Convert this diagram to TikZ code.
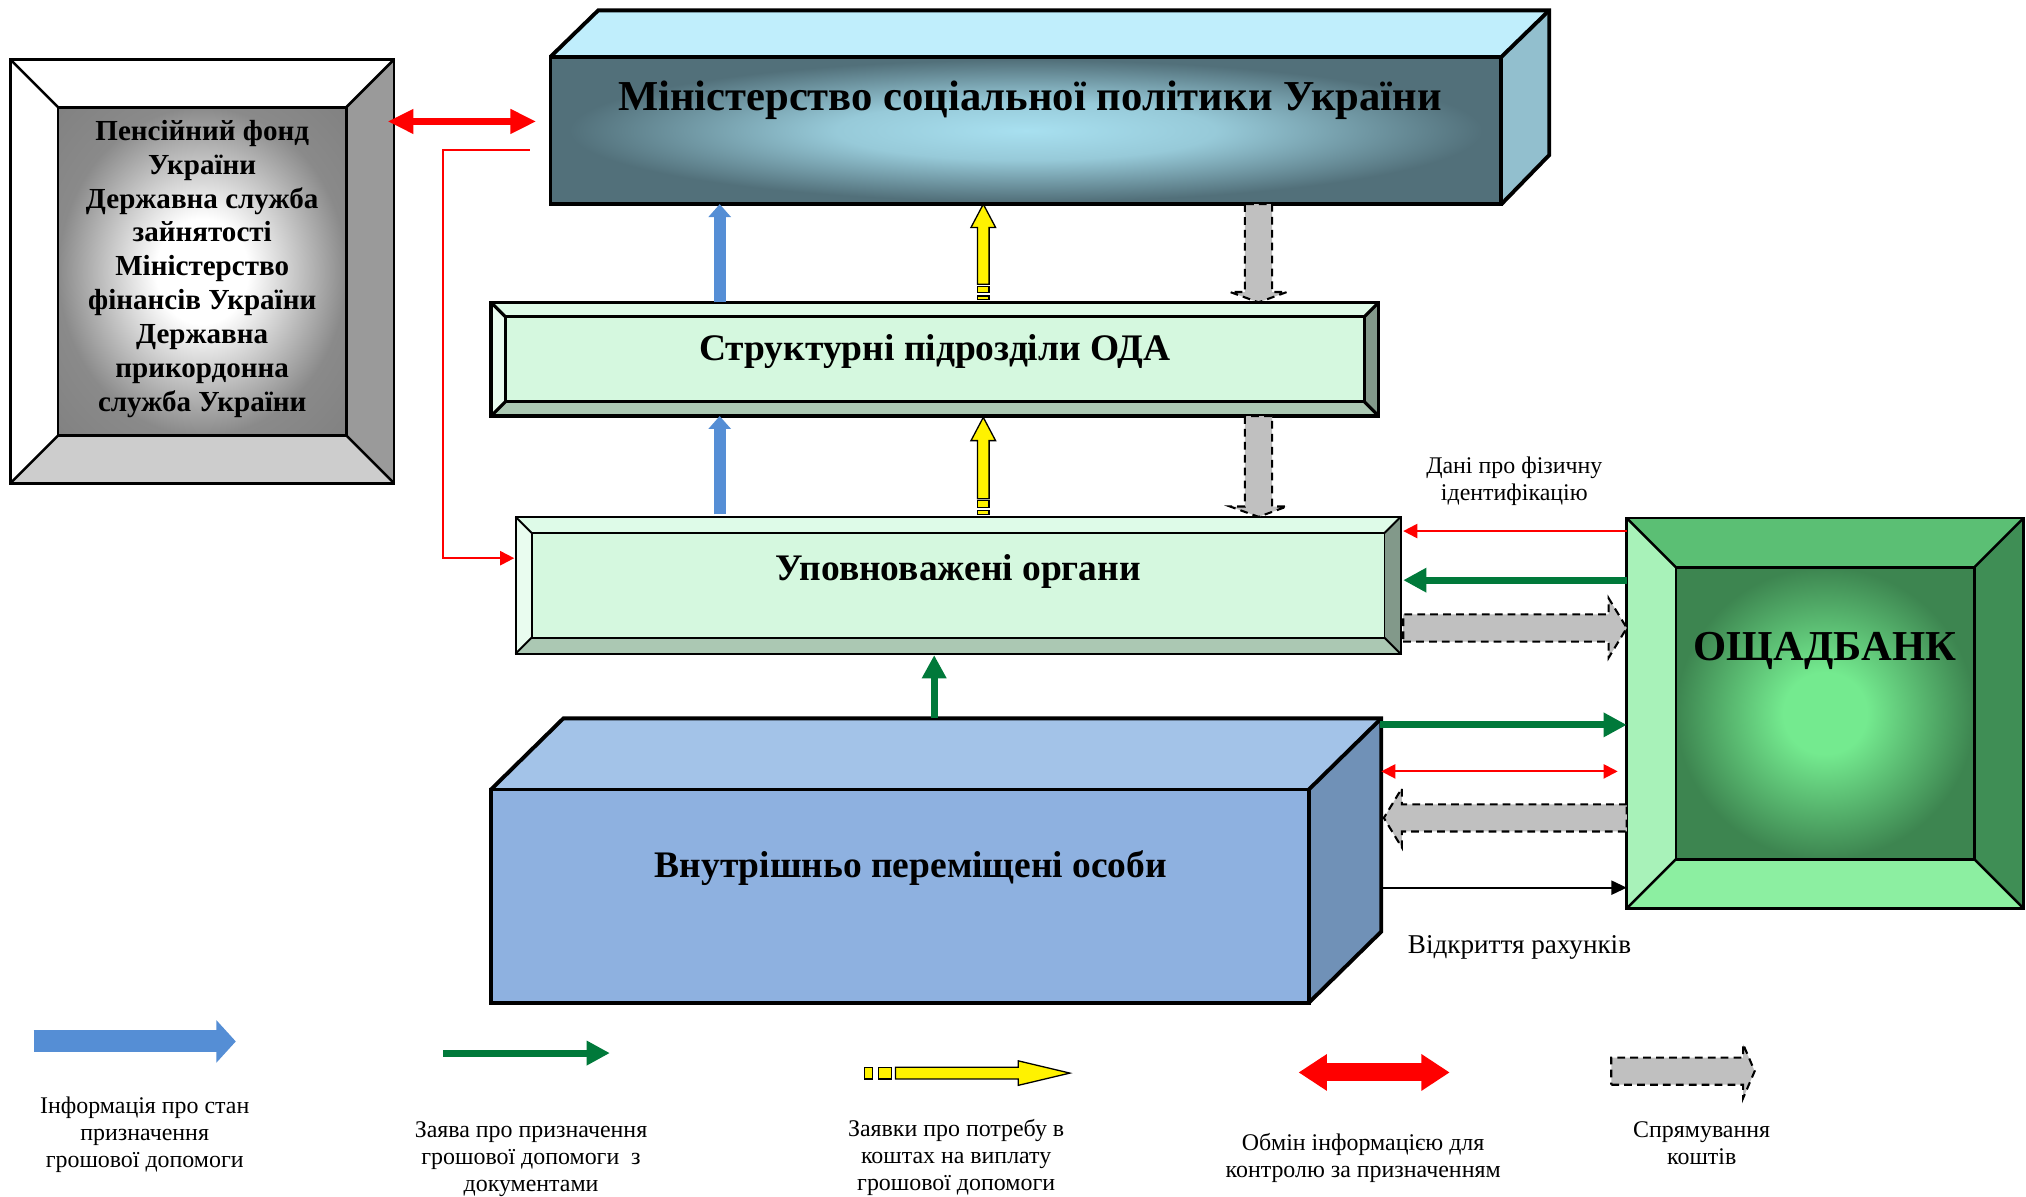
\documentclass[tikz,border=0pt]{standalone}
\usepackage{fontspec}
\setmainfont{Liberation Serif}
\usetikzlibrary{arrows.meta,calc}

\definecolor{mspTop}{HTML}{C0EEFC}
\definecolor{mspSide}{HTML}{92BFCE}
\definecolor{mspEdge}{HTML}{52707A}
\definecolor{mspGlow}{HTML}{A8E0F0}
\definecolor{penRight}{HTML}{9A9A9A}
\definecolor{penBottom}{HTML}{CDCDCD}
\definecolor{penEdge}{HTML}{8A8A8A}
\definecolor{odaFace}{HTML}{D5F8DF}
\definecolor{odaTop}{HTML}{DEFBE8}
\definecolor{odaLeft}{HTML}{E9FCEF}
\definecolor{odaRight}{HTML}{82998A}
\definecolor{odaBottom}{HTML}{ABC8B3}
\definecolor{bankTop}{HTML}{5BBF74}
\definecolor{bankLeft}{HTML}{A8F2B9}
\definecolor{bankRight}{HTML}{3F8E55}
\definecolor{bankBottom}{HTML}{8CEFA1}
\definecolor{bankEdge}{HTML}{3D8550}
\definecolor{bankGlow}{HTML}{74EA8F}
\definecolor{vpoFront}{HTML}{8EB1E0}
\definecolor{vpoTop}{HTML}{A3C3E8}
\definecolor{vpoSide}{HTML}{7091B7}
\definecolor{arrBlue}{HTML}{558ED5}
\definecolor{arrGreen}{HTML}{00793A}
\definecolor{arrGray}{HTML}{C0C0C0}
\definecolor{arrRed}{HTML}{FF0000}

\pgfdeclareradialshading{mspglow}{\pgfpointorigin}{color(0bp)=(mspGlow); color(10bp)=(mspGlow!80!mspEdge); color(24bp)=(mspEdge); color(50bp)=(mspEdge)}
\pgfdeclareradialshading{penglow}{\pgfpointorigin}{color(0bp)=(white); color(8bp)=(white); color(25bp)=(penEdge); color(50bp)=(penEdge!85!black)}
\pgfdeclareradialshading{bankglow}{\pgfpointorigin}{color(0bp)=(bankGlow); color(7bp)=(bankGlow); color(25bp)=(bankEdge); color(50bp)=(bankEdge)}

% bevel frame: name, inset, top, left, right, bottom, line width
\newcommand{\bevelbox}[7]{%
  \fill[#3] (#1.north west) -- (#1.north east) -- ($(#1.north east)+(-#2,#2)$) -- ($(#1.north west)+(#2,#2)$) -- cycle;
  \fill[#4] (#1.north west) -- ($(#1.north west)+(#2,#2)$) -- ($(#1.south west)+(#2,-#2)$) -- (#1.south west) -- cycle;
  \fill[#5] (#1.north east) -- (#1.south east) -- ($(#1.south east)+(-#2,-#2)$) -- ($(#1.north east)+(-#2,#2)$) -- cycle;
  \fill[#6] (#1.south west) -- (#1.south east) -- ($(#1.south east)+(-#2,-#2)$) -- ($(#1.south west)+(#2,-#2)$) -- cycle;
  \draw[line width=#7] (#1.south west) rectangle (#1.north east);
  \draw[line width=#7] (#1.north west) -- ++(#2,#2) (#1.north east) -- ++(-#2,#2)
    (#1.south west) -- ++(#2,-#2) (#1.south east) -- ++(-#2,-#2);
}

\tikzset{
  box/.style={inner sep=0pt, outer sep=0pt},
  edge3d/.style={draw=black, line width=3pt, line join=miter},
  bigtitle/.style={font=\bfseries\fontsize{33}{38}\selectfont, inner sep=0pt},
  boxtitle/.style={font=\bfseries\fontsize{29}{34}\selectfont, inner sep=0pt},
  pentext/.style={font=\bfseries\fontsize{22.5}{26.2}\selectfont, align=center, inner sep=0pt},
  note/.style={font=\fontsize{18.5}{21}\selectfont, align=center, inner sep=0pt},
  bluearr/.style={draw=arrBlue, line width=9pt, -{Triangle[length=10pt,width=17pt]}},
  greenarr/.style={draw=arrGreen, line width=5.5pt, -{Triangle[length=18pt,width=18pt]}},
  redbig/.style={draw=arrRed, line width=6pt, {Triangle[length=20pt,width=18pt]}-{Triangle[length=20pt,width=18pt]}},
  redthin/.style={draw=arrRed, line width=1.6pt, -{Triangle[length=11pt,width=11pt]}},
  blackthin/.style={draw=black, line width=1.5pt, -{Triangle[length=12pt,width=11pt]}},
  yarr/.style={fill=yellow, draw=black, line width=1pt},
  graydash/.style={draw=black, line width=1.6pt, dash pattern=on 6pt off 4pt},
  % yellow arrow: length, head length, tail unit
  pics/yellowarr/.style n args={3}{code={
    \filldraw[yarr] (0,0) -- (9.5,#2) -- (4.5,#2) -- (4.5,#1-2.4*#3) -- (-4.5,#1-2.4*#3) -- (-4.5,#2) -- (-9.5,#2) -- cycle;
    \filldraw[yarr] (-4.5,#1-2.1*#3) rectangle (4.5,#1-1.1*#3);
    \filldraw[yarr] (-4.5,#1-0.6*#3) rectangle (4.5,#1);
  }},
  % gray dashed arrow: length, head length, head half width
  pics/grayarr/.style n args={3}{code={
    \fill[arrGray] (-10.5,0) -- (-10.5,#1-#2) -- (-#3,#1-#2) -- (0,#1) -- (#3,#1-#2) -- (10.5,#1-#2) -- (10.5,0) -- cycle;
    \draw[graydash] (-10.5,0) -- (-10.5,#1-#2) -- (-#3,#1-#2) -- (0,#1) -- (#3,#1-#2) -- (10.5,#1-#2) -- (10.5,0) -- cycle;
  }}
}

\begin{document}
\begin{tikzpicture}[x=1pt,y=-1pt]
    \useasboundingbox (0,0) rectangle (1568,926.4);

    % boxes
    \node[box, minimum width=297pt, minimum height=328pt] (pen) at (156.5,210) {};
    \node[box, minimum width=773pt, minimum height=150pt] (msp) at (812.5,83) {};
    \node[box, minimum width=687pt, minimum height=88pt] (oda) at (723.5,278) {};
    \node[box, minimum width=685pt, minimum height=106pt] (upo) at (741.5,453) {};
    \node[box, minimum width=689pt, minimum height=220pt] (vpo) at (724.5,666) {};
    \node[box, minimum width=307pt, minimum height=302pt] (bank) at (1412.5,552) {};

    % Пенсійний фонд ...
    \bevelbox{pen}{37}{white}{white}{penRight}{penBottom}{2pt}
    \shade[shading=penglow] ($(pen.north west)+(37,37)$) rectangle ($(pen.south east)+(-37,-37)$);
    \draw[line width=2pt] ($(pen.north west)+(37,37)$) rectangle ($(pen.south east)+(-37,-37)$);

    % Міністерство
    \fill[mspTop] (msp.north east) -- ($(msp.north west)+(37,0)$) -- ($(msp.north west)+(0,36)$) -- ($(msp.north east)+(-37,36)$) -- cycle;
    \fill[mspSide] (msp.north east) -- ($(msp.north east)+(-37,36)$) -- ($(msp.south east)+(-37,0)$) -- ($(msp.south east)+(0,-38)$) -- cycle;
    \shade[shading=mspglow] ($(msp.north west)+(0,36)$) rectangle ($(msp.south east)+(-37,0)$);
    \draw[edge3d] ($(msp.north west)+(0,36)$) rectangle ($(msp.south east)+(-37,0)$);
    \draw[edge3d] ($(msp.north west)+(0,36)$) -- ($(msp.north west)+(37,0)$) -- (msp.north east) -- ($(msp.south east)+(0,-38)$) -- ($(msp.south east)+(-37,0)$);
    \draw[edge3d] (msp.north east) -- ($(msp.north east)+(-37,36)$);

    % Структурні підрозділи ОДА
    \bevelbox{oda}{11}{odaTop}{odaLeft}{odaRight}{odaBottom}{2.5pt}
    \filldraw[fill=odaFace, line width=2.5pt] ($(oda.north west)+(11,11)$) rectangle ($(oda.south east)+(-11,-11)$);

    % Уповноважені органи
    \bevelbox{upo}{12.5}{odaTop}{odaLeft}{odaRight}{odaBottom}{1.5pt}
    \filldraw[fill=odaFace, line width=1.5pt] ($(upo.north west)+(12.5,12.5)$) rectangle ($(upo.south east)+(-12.5,-12.5)$);

    % Внутрішньо переміщені особи
    \fill[vpoTop] (vpo.north east) -- ($(vpo.north west)+(56,0)$) -- ($(vpo.north west)+(0,55)$) -- ($(vpo.north east)+(-56,55)$) -- cycle;
    \fill[vpoSide] (vpo.north east) -- ($(vpo.north east)+(-56,55)$) -- ($(vpo.south east)+(-56,0)$) -- ($(vpo.south east)+(0,-55)$) -- cycle;
    \fill[vpoFront] ($(vpo.north west)+(0,55)$) rectangle ($(vpo.south east)+(-56,0)$);
    \draw[edge3d] ($(vpo.north west)+(0,55)$) rectangle ($(vpo.south east)+(-56,0)$);
    \draw[edge3d] ($(vpo.north west)+(0,55)$) -- ($(vpo.north west)+(56,0)$) -- (vpo.north east) -- ($(vpo.south east)+(0,-55)$) -- ($(vpo.south east)+(-56,0)$);
    \draw[edge3d] (vpo.north east) -- ($(vpo.north east)+(-56,55)$);

    % ОЩАДБАНК
    \bevelbox{bank}{38}{bankTop}{bankLeft}{bankRight}{bankBottom}{2pt}
    \shade[shading=bankglow] ($(bank.north west)+(38,38)$) rectangle ($(bank.south east)+(-38,-38)$);
    \draw[line width=2pt] ($(bank.north west)+(38,38)$) rectangle ($(bank.south east)+(-38,-38)$);

    % titles
    \node[pentext] (pentitle) at ([yshift=2pt]pen.center) {Пенсійний фонд\\України\\Державна служба\\зайнятості\\Міністерство\\фінансів України\\Державна\\прикордонна\\служба України};
    \node[bigtitle] (msptitle) at (797,77.5) {Міністерство соціальної політики України};
    \node[boxtitle] (odatitle) at ([yshift=6pt]oda.center) {Структурні підрозділи ОДА};
    \node[boxtitle] (upotitle) at ([yshift=11pt]upo.center) {Уповноважені органи};
    \node[boxtitle] (vpotitle) at (705,672) {Внутрішньо переміщені особи};
    \node[font=\bfseries\fontsize{33}{38}\selectfont, inner sep=0pt] (banktitle) at ([yshift=48pt]bank.center) {ОЩАДБАНК};

    % helper positions
    \coordinate (yred) at (0,94);
    \coordinate (redturn) at (343,116);
    \coordinate (redin) at (343,432);
    \coordinate (xblue) at (557,0);
    \coordinate (xyel) at (761,0);
    \coordinate (xgray) at (974,0);
    \coordinate (xgreen) at (723,0);
    \coordinate (yident) at (0,411);
    \coordinate (yclaim) at (0,449);
    \coordinate (yfund) at (0,486);
    \coordinate (yapply) at (0,561);
    \coordinate (yinfo) at (0,597);
    \coordinate (ypay) at (0,633);
    \coordinate (yopen) at (0,687);

    % connectors
    \draw[redbig, shorten <=-5pt, shorten >=11pt] (pen.east |- yred) -- (msp.west |- yred);
    \draw[redthin, shorten <=16pt, shorten >=1pt] (msp.west |- redturn) -- (redturn) -- (redin) -- (upo.west |- redin);

    \draw[bluearr] (oda.north -| xblue) -- (msp.south -| xblue);
    \draw[bluearr, shorten <=2pt] (upo.north -| xblue) -- (oda.south -| xblue);
    \pic at (msp.south -| xyel) {yellowarr={74}{18}{5}};
    \pic at ([yshift=-1pt]oda.south -| xyel) {yellowarr={75}{18}{5}};
    \pic at (msp.south -| xgray) {grayarr={76}{8}{22}};
    \pic at (oda.south -| xgray) {grayarr={78}{8}{22}};

    \draw[redthin, shorten >=2pt] (bank.west |- yident) -- (upo.east |- yident);
    \draw[greenarr, shorten >=2pt] (bank.west |- yclaim) -- (upo.east |- yclaim);
    \pic[rotate=90] at ([xshift=2pt]upo.east |- yfund) {grayarr={173}{14}{23}};
    \draw[greenarr, shorten <=-1pt] (vpo.east |- yapply) -- (bank.west |- yapply);
    \draw[redthin, {Triangle[length=11pt,width=11pt]}-{Triangle[length=11pt,width=11pt]}, shorten >=7pt] (vpo.east |- yinfo) -- (bank.west |- yinfo);
    \pic[rotate=-90] at (bank.west |- ypay) {grayarr={188}{14}{23}};
    \draw[blackthin] (vpo.east |- yopen) -- (bank.west |- yopen);
    \draw[greenarr, shorten >=1pt] (vpo.north -| xgreen) -- (upo.south -| xgreen);

    \node[note] (identnote) at (1172,372.5) {Дані про фізичну\\ідентифікацію};
    \node[note, font=\fontsize{21}{25}\selectfont] (opennote) at (1176,733) {Відкриття рахунків};

    % legend
    \coordinate (lblue0) at (26,806);
    \coordinate (lblue1) at (182.5,806);
    \coordinate (lgreen0) at (343,815);
    \coordinate (lgreen1) at (472,815);
    \coordinate (lred0) at (1005,830);
    \coordinate (lred1) at (1122,830);
    \draw[draw=arrBlue, line width=17pt, -{Triangle[length=15pt,width=32pt]}] (lblue0) -- (lblue1);
    \draw[greenarr] (lgreen0) -- (lgreen1);
    \pic[rotate=-90] at (828,830.5) {yellowarr={159}{40}{10}};
    \draw[draw=arrRed, line width=14pt, {Triangle[length=22pt,width=27pt]}-{Triangle[length=22pt,width=27pt]}] (lred0) -- (lred1);
    \pic[rotate=90] at (1247,829) {grayarr={111}{9}{21}};

    \node[note] (lbluetext) at (112,878) {Інформація про стан\\призначення\\грошової допомоги};
    \node[note] (lgreentext) at (411,897) {Заява про призначення\\грошової допомоги\ \ з\\документами};
    \node[note] (lyeltext) at (740,896) {Заявки про потребу в\\коштах на виплату\\грошової допомоги};
    \node[note] (lredtext) at (1055,896.5) {Обмін інформацією для\\контролю за призначенням};
    \node[note] (lgraytext) at (1317,885) {Спрямування\\коштів};
\end{tikzpicture}
\end{document}
